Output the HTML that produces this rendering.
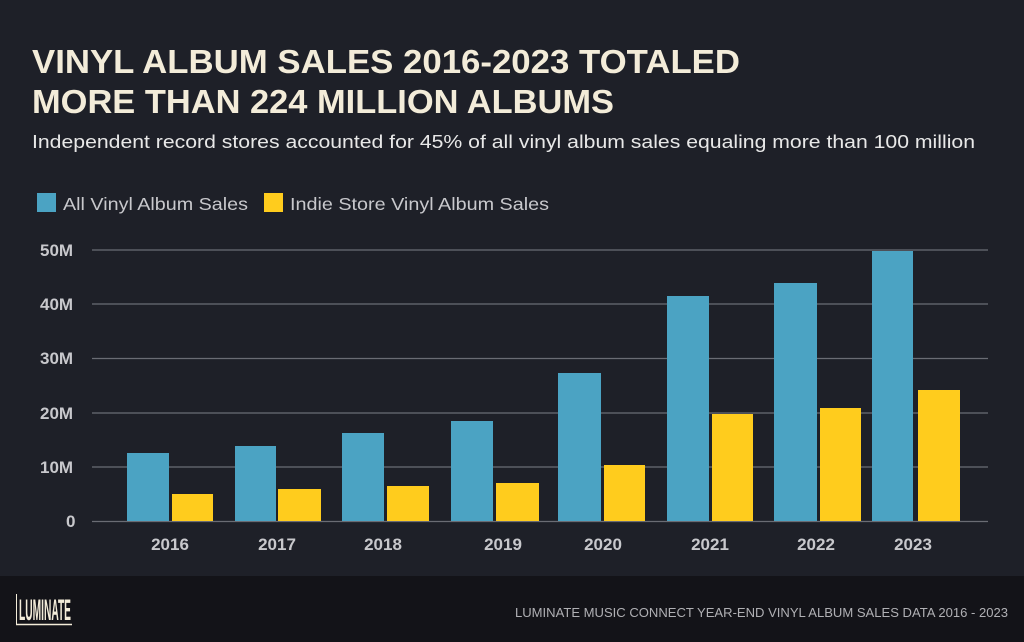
<!DOCTYPE html>
<html><head><meta charset="utf-8"><style>
body{margin:0;width:1024px;height:642px;background:#1e2028;font-family:"Liberation Sans",sans-serif;overflow:hidden;position:relative}
.foot{position:absolute;left:0;top:576px;width:1024px;height:66px;background:#131318}
</style></head><body>
<svg width="1024" height="576" style="position:absolute;left:0;top:0" font-family="Liberation Sans, sans-serif">
<text x="32" y="73" fill="#f3ecd9" font-size="33" font-weight="bold" textLength="708" lengthAdjust="spacingAndGlyphs">VINYL ALBUM SALES 2016-2023 TOTALED</text>
<text x="32" y="113" fill="#f3ecd9" font-size="33" font-weight="bold" textLength="582" lengthAdjust="spacingAndGlyphs">MORE THAN 224 MILLION ALBUMS</text>
<text x="32" y="148" fill="#e8e8e8" font-size="18.5" textLength="943" lengthAdjust="spacingAndGlyphs">Independent record stores accounted for 45% of all vinyl album sales equaling more than 100 million</text>
<rect x="37" y="193" width="19" height="19" fill="#4ba3c3"/>
<text x="63" y="210" fill="#c8c8cc" font-size="17.5" textLength="185" lengthAdjust="spacingAndGlyphs">All Vinyl Album Sales</text>
<rect x="264" y="193" width="19" height="19" fill="#ffcc1d"/>
<text x="290" y="210" fill="#c8c8cc" font-size="17.5" textLength="259" lengthAdjust="spacingAndGlyphs">Indie Store Vinyl Album Sales</text>
<g stroke="#6a6c74" stroke-width="1.3">
<line x1="92" x2="988" y1="250" y2="250"/><line x1="92" x2="988" y1="304" y2="304"/>
<line x1="92" x2="988" y1="358.5" y2="358.5"/><line x1="92" x2="988" y1="413" y2="413"/>
<line x1="92" x2="988" y1="467" y2="467"/><line x1="92" x2="988" y1="521.5" y2="521.5"/>
</g>
<g fill="#c8c8cc" font-size="17" font-weight="bold">
<text x="40" y="256">50M</text><text x="40" y="310">40M</text><text x="40" y="364">30M</text>
<text x="40" y="419">20M</text><text x="40" y="473">10M</text><text x="66" y="527">0</text>
</g>
<g fill="#4ba3c3">
<rect x="127" y="453" width="42" height="68"/><rect x="235" y="446" width="41" height="75"/>
<rect x="342" y="433" width="42" height="88"/><rect x="451" y="421" width="42" height="100"/>
<rect x="558" y="373" width="43" height="148"/><rect x="667" y="296" width="42" height="225"/>
<rect x="774" y="283" width="43" height="238"/><rect x="872" y="251" width="41" height="270"/>
</g>
<g fill="#ffcc1d">
<rect x="172" y="494" width="41" height="27"/><rect x="278" y="489" width="43" height="32"/>
<rect x="387" y="486" width="42" height="35"/><rect x="496" y="483" width="43" height="38"/>
<rect x="604" y="465" width="41" height="56"/><rect x="712" y="414" width="41" height="107"/>
<rect x="820" y="408" width="41" height="113"/><rect x="918" y="390" width="42" height="131"/>
</g>
<g fill="#c8c8cc" font-size="17" font-weight="bold" text-anchor="middle">
<text x="170" y="550">2016</text><text x="277" y="550">2017</text><text x="383" y="550">2018</text>
<text x="503" y="550">2019</text><text x="603" y="550">2020</text><text x="710" y="550">2021</text>
<text x="816" y="550">2022</text><text x="913" y="550">2023</text>
</g>
</svg>
<div class="foot">
<svg width="1024" height="66" style="position:absolute;left:0;top:0" font-family="Liberation Sans, sans-serif">
<line x1="16.5" y1="18" x2="16.5" y2="48" stroke="#f3ecd9" stroke-width="1"/>
<line x1="16" y1="48.5" x2="72" y2="48.5" stroke="#f3ecd9" stroke-width="1.5"/>
<text x="19" y="44" fill="#f3ecd9" font-size="30" font-weight="bold" textLength="52" lengthAdjust="spacingAndGlyphs">LUMINATE</text>
<text x="1008" y="41" fill="#b0b0b4" font-size="13" text-anchor="end" textLength="493" lengthAdjust="spacingAndGlyphs">LUMINATE MUSIC CONNECT YEAR-END VINYL ALBUM SALES DATA 2016 - 2023</text>
</svg>
</div>
</body></html>
